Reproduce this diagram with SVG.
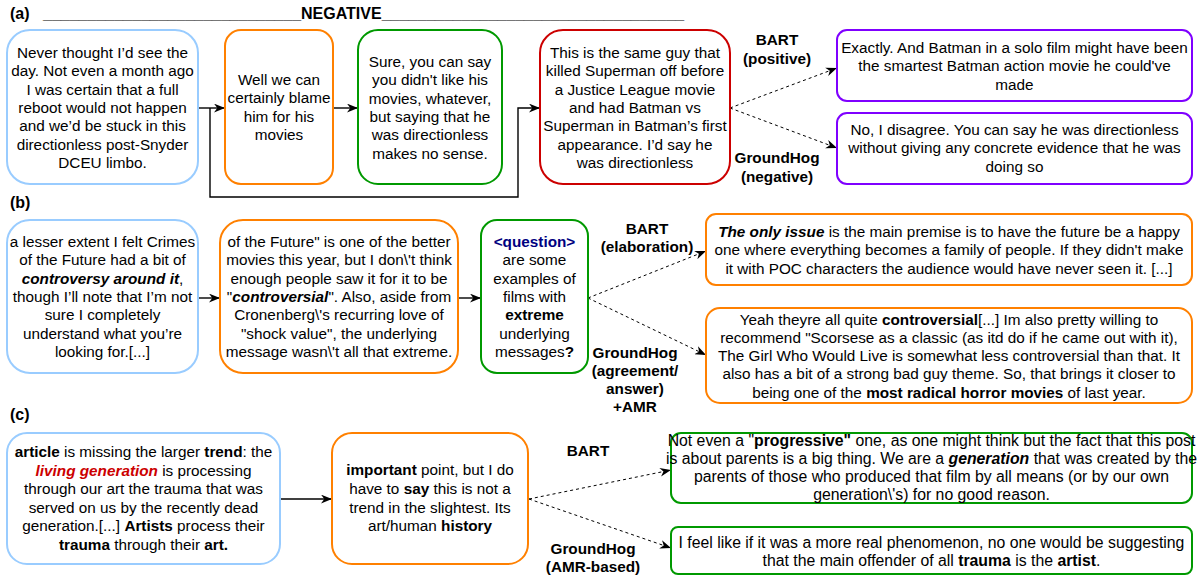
<svg xmlns="http://www.w3.org/2000/svg" width="1197" height="577" viewBox="0 0 1197 577">
<defs>
<style>
.t{font-family:"Liberation Sans",Arial,Helvetica,sans-serif;font-size:15.3px;fill:#000;text-anchor:middle}
.h{font-family:"Liberation Sans",Arial,Helvetica,sans-serif;font-size:16px;font-weight:bold;fill:#000}
.b{font-weight:bold}
.i{font-style:italic}
.box{fill:#fff;stroke-width:2}
.blue{stroke:#99CCFF}
.orange{stroke:#FF8000}
.green{stroke:#009900}
.red{stroke:#CC0000}
.purple{stroke:#7F00FF}
.solid{fill:none;stroke:#000;stroke-width:1.4;marker-end:url(#arr)}
.dash{fill:none;stroke:#000;stroke-width:1;stroke-dasharray:3 3;marker-end:url(#arr)}
</style>
<marker id="arr" viewBox="0 0 10 8" refX="10" refY="4" markerWidth="11" markerHeight="9" markerUnits="userSpaceOnUse" orient="auto">
<path d="M0,0 L10,4 L0,8 L3,4 Z" fill="#000"/>
</marker>
</defs>
<rect width="1197" height="577" fill="#fff"/>

<g id="headers">
<text class="h" x="10" y="19">(a)</text>
<text class="h" x="43" y="19">_____________________________NEGATIVE__________________________________</text>
<text class="h" x="10" y="208">(b)</text>
<text class="h" x="10" y="420">(c)</text>
</g>

<g id="connectors">
<path class="solid" d="M198,108 H225"/>
<path class="solid" d="M333,108 H358"/>
<path class="solid" d="M210,108 V197 H518 V108 H540"/>
<path class="dash" d="M730,108 L837,68"/>
<path class="dash" d="M730,108 L837,148"/>
<path class="solid" d="M198,298 H220"/>
<path class="solid" d="M458,298 H481"/>
<path class="dash" d="M588,298 L706,251"/>
<path class="dash" d="M588,298 L706,355"/>
<path class="solid" d="M280,499 H332"/>
<path class="dash" d="M529,499 L671,470"/>
<path class="dash" d="M529,499 L671,548"/>
</g>

<g id="edge-labels">
<text class="t b" x="777" y="45">BART</text>
<text class="t b" x="777" y="64">(positive)</text>
<text class="t b" x="777" y="163">GroundHog</text>
<text class="t b" x="777" y="182">(negative)</text>
<text class="t b" x="647" y="234">BART</text>
<text class="t b" x="647" y="252">(elaboration)</text>
<text class="t b" x="635" y="357.5">GroundHog</text>
<text class="t b" x="635" y="375.8">(agreement/</text>
<text class="t b" x="635" y="394.1">answer)</text>
<text class="t b" x="635" y="412.4">+AMR</text>
<text class="t b" x="588" y="456">BART</text>
<text class="t b" x="593" y="554">GroundHog</text>
<text class="t b" x="593" y="572">(AMR-based)</text>
</g>

<g id="a1">
<rect class="box blue" x="7" y="30" width="191" height="154" rx="23"/>
<text class="t" x="102.5" y="58">Never thought I’d see the</text>
<text class="t" x="102.5" y="76.3">day. Not even a month ago</text>
<text class="t" x="102.5" y="94.6">I was certain that a full</text>
<text class="t" x="102.5" y="113">reboot would not happen</text>
<text class="t" x="102.5" y="131.3">and we’d be stuck in this</text>
<text class="t" x="102.5" y="149.6">directionless post-Snyder</text>
<text class="t" x="102.5" y="168">DCEU limbo.</text>
</g>

<g id="a2">
<rect class="box orange" x="225" y="30" width="108" height="154" rx="16"/>
<text class="t" x="279" y="85">Well we can</text>
<text class="t" x="279" y="103.3">certainly blame</text>
<text class="t" x="279" y="121.6">him for his</text>
<text class="t" x="279" y="140">movies</text>
</g>

<g id="a3">
<rect class="box green" x="358" y="30" width="144" height="154" rx="20"/>
<text class="t" x="430" y="67">Sure, you can say</text>
<text class="t" x="430" y="85.3">you didn't like his</text>
<text class="t" x="430" y="103.6">movies, whatever,</text>
<text class="t" x="430" y="122">but saying that he</text>
<text class="t" x="430" y="140.3">was directionless</text>
<text class="t" x="430" y="158.6">makes no sense.</text>
</g>

<g id="a4">
<rect class="box red" x="540" y="30" width="190" height="154" rx="23"/>
<text class="t" x="635" y="58">This is the same guy that</text>
<text class="t" x="635" y="76.3">killed Superman off before</text>
<text class="t" x="635" y="94.6">a Justice League movie</text>
<text class="t" x="635" y="113">and had Batman vs</text>
<text class="t" x="635" y="131.3">Superman in Batman’s first</text>
<text class="t" x="635" y="149.6">appearance. I’d say he</text>
<text class="t" x="635" y="168">was directionless</text>
</g>

<g id="a5">
<rect class="box purple" x="837" y="30" width="355" height="71" rx="10"/>
<text class="t" x="1014.5" y="53">Exactly. And Batman in a solo film might have been</text>
<text class="t" x="1014.5" y="71.3">the smartest Batman action movie he could've</text>
<text class="t" x="1014.5" y="89.6">made</text>
</g>

<g id="a6">
<rect class="box purple" x="837" y="113" width="355" height="71" rx="10"/>
<text class="t" x="1014.5" y="135">No, I disagree. You can say he was directionless</text>
<text class="t" x="1014.5" y="153.3">without giving any concrete evidence that he was</text>
<text class="t" x="1014.5" y="171.6">doing so</text>
</g>

<g id="b1">
<rect class="box blue" x="7" y="220" width="191" height="153" rx="23"/>
<text class="t" x="102.5" y="247">a lesser extent I felt Crimes</text>
<text class="t" x="102.5" y="265.3">of the Future had a bit of</text>
<text class="t" x="102.5" y="283.6"><tspan class="b i">controversy around it</tspan>,</text>
<text class="t" x="102.5" y="302">though I’ll note that I’m not</text>
<text class="t" x="102.5" y="320.3">sure I completely</text>
<text class="t" x="102.5" y="338.6">understand what you’re</text>
<text class="t" x="102.5" y="357">looking for.[...]</text>
</g>

<g id="b2">
<rect class="box orange" x="220" y="220" width="238" height="153" rx="23"/>
<text class="t" x="339" y="247">of the Future" is one of the better</text>
<text class="t" x="339" y="265.3">movies this year, but I don\'t think</text>
<text class="t" x="339" y="283.6">enough people saw it for it to be</text>
<text class="t" x="339" y="302">"<tspan class="b i">controversial</tspan>". Also, aside from</text>
<text class="t" x="339" y="320.3">Cronenberg\'s recurring love of</text>
<text class="t" x="339" y="338.6">"shock value", the underlying</text>
<text class="t" x="339" y="357">message wasn\'t all that extreme.</text>
</g>

<g id="b3">
<rect class="box green" x="481" y="220" width="107" height="153" rx="16"/>
<text class="t b" x="534.5" y="247" style="fill:#000080">&lt;question&gt;</text>
<text class="t" x="534.5" y="265.3">are some</text>
<text class="t" x="534.5" y="283.6">examples of</text>
<text class="t" x="534.5" y="302">films with</text>
<text class="t b" x="534.5" y="320.3">extreme</text>
<text class="t" x="534.5" y="338.6">underlying</text>
<text class="t" x="534.5" y="357">messages<tspan class="b">?</tspan></text>
</g>

<g id="b4">
<rect class="box orange" x="706" y="214" width="486" height="71" rx="10"/>
<text class="t" x="949" y="237"><tspan class="b i">The only issue</tspan> is the main premise is to have the future be a happy</text>
<text class="t" x="949" y="255.3">one where everything becomes a family of people. If they didn't make</text>
<text class="t" x="949" y="273.6">it with POC characters the audience would have never seen it. [...]</text>
</g>

<g id="b5">
<rect class="box orange" x="706" y="308" width="486" height="95" rx="14"/>
<text class="t" x="949" y="324.5">Yeah theyre all quite <tspan class="b">controversial</tspan>[...] Im also pretty willing to</text>
<text class="t" x="949" y="342.8">recommend "Scorsese as a classic (as itd do if he came out with it),</text>
<text class="t" x="949" y="361.1">The Girl Who Would Live is somewhat less controversial than that. It</text>
<text class="t" x="949" y="379.4">also has a bit of a strong bad guy theme. So, that brings it closer to</text>
<text class="t" x="949" y="397.7">being one of the <tspan class="b">most radical horror movies</tspan> of last year.</text>
</g>

<g id="c1">
<rect class="box blue" x="7" y="433" width="273" height="131" rx="20"/>
<text class="t" x="143.5" y="457"><tspan class="b">article</tspan> is missing the larger <tspan class="b">trend</tspan>: the</text>
<text class="t" x="143.5" y="475.5"><tspan class="b i" style="fill:#CC0000">living generation</tspan> is processing</text>
<text class="t" x="143.5" y="494">through our art the trauma that was</text>
<text class="t" x="143.5" y="512.5">served on us by the recently dead</text>
<text class="t" x="143.5" y="531">generation.[...] <tspan class="b">Artists</tspan> process their</text>
<text class="t" x="143.5" y="549.5"><tspan class="b">trauma</tspan> through their <tspan class="b">art.</tspan></text>
</g>

<g id="c2">
<rect class="box orange" x="332" y="433" width="196" height="131" rx="20"/>
<text class="t" x="430" y="475"><tspan class="b">important</tspan> point, but I do</text>
<text class="t" x="430" y="494">have to <tspan class="b">say</tspan> this is not a</text>
<text class="t" x="430" y="512.5">trend in the slightest. Its</text>
<text class="t" x="430" y="531">art/human <tspan class="b">history</tspan></text>
</g>

<g id="c3">
<rect class="box green" x="671" y="433" width="521" height="70" rx="10"/>
<text class="t" x="931.5" y="445.5" style="font-size:15.8px">Not even a "<tspan class="b">progressive"</tspan> one, as one might think but the fact that this post</text>
<text class="t" x="931.5" y="463.8" style="font-size:15.8px">is about parents is a big thing. We are a <tspan class="b i">generation</tspan> that was created by the</text>
<text class="t" x="931.5" y="482.1" style="font-size:15.8px">parents of those who produced that film by all means (or by our own</text>
<text class="t" x="931.5" y="500.4" style="font-size:15.8px">generation\'s) for no good reason.</text>
</g>

<g id="c4">
<rect class="box green" x="671" y="527" width="521" height="47" rx="7"/>
<text class="t" x="931.5" y="548" style="font-size:15.8px">I feel like if it was a more real phenomenon, no one would be suggesting</text>
<text class="t" x="931.5" y="566" style="font-size:15.8px">that the main offender of all <tspan class="b">trauma</tspan> is the <tspan class="b">artist</tspan>.</text>
</g>
</svg>
